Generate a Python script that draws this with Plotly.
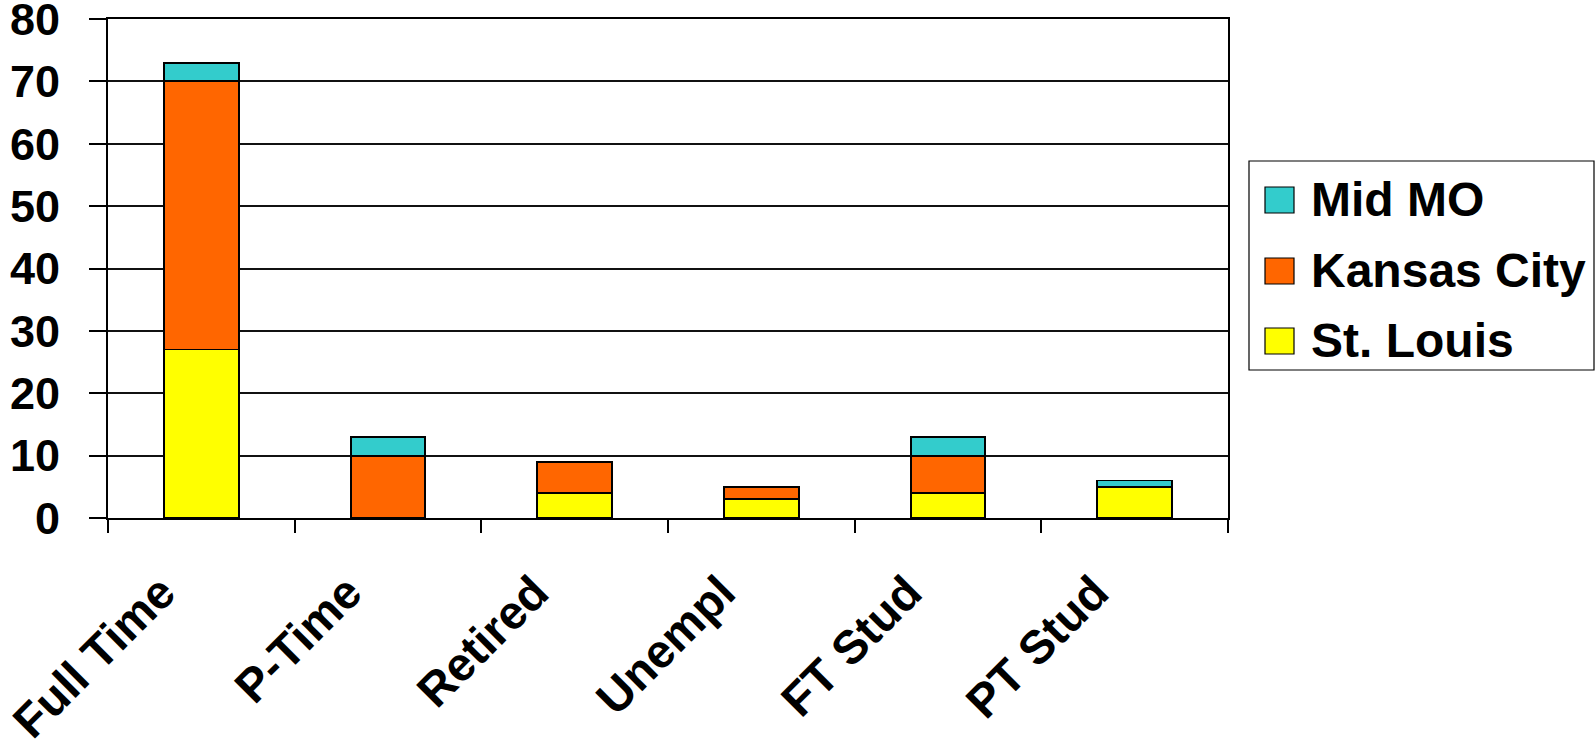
import plotly.graph_objects as go

categories = ["Full Time", "P-Time", "Retired", "Unempl", "FT Stud", "PT Stud"]
st_louis = [27, 0, 4, 3, 4, 5]
kansas_city = [43, 10, 5, 2, 6, 0]
mid_mo = [3, 3, 0, 0, 3, 1]
series_names = ["St. Louis", "Kansas City", "Mid MO"]
series_colors = ["#FFFF00", "#FF6600", "#33CCCC"]
y_ticks = [0, 10, 20, 30, 40, 50, 60, 70, 80]

W, H = 1595, 741
L, R, T, B = 108, 1228, 19, 518  # plot area in pixels
FONT = "Liberation Sans, Arial, sans-serif"

fig = go.Figure()
for name, vals, col in zip(series_names, [st_louis, kansas_city, mid_mo], series_colors):
    fig.add_trace(go.Bar(
        x=categories, y=vals, name=name,
        marker=dict(color=col, line=dict(color="black", width=1.8)),
        showlegend=False,
    ))

def px_x(p):
    return (p - L) / (R - L)

def px_y(p):
    return (B - p) / (B - T)

shapes = [dict(type="rect", xref="paper", yref="paper",
               x0=px_x(1249), x1=px_x(1594), y0=px_y(370), y1=px_y(161),
               line=dict(color="black", width=1.2), fillcolor="white", layer="above")]
annotations = []
row_centers = [341, 271, 200]
for name, col, cy in zip(series_names, series_colors, row_centers):
    shapes.append(dict(type="rect", xref="paper", yref="paper",
                       x0=px_x(1265), x1=px_x(1294), y0=px_y(cy + 13), y1=px_y(cy - 13),
                       line=dict(color="black", width=1.2), fillcolor=col, layer="above"))
    annotations.append(dict(xref="paper", yref="paper", x=px_x(1309), y=px_y(cy - 1),
                            xanchor="left", yanchor="middle", showarrow=False,
                            text=name, font=dict(family=FONT, size=48, color="black", weight="bold")))

fig.update_layout(
    width=W, height=H,
    margin=dict(l=L, r=W - R, t=T, b=H - B, pad=0),
    barmode="stack", bargap=0.6,
    paper_bgcolor="white", plot_bgcolor="white",
    showlegend=False,
    shapes=shapes, annotations=annotations,
    font=dict(family=FONT, size=46, color="black", weight="bold"),
)
fig.update_xaxes(
    type="category", tickangle=-45, tickson="boundaries", automargin=False,
    ticks="outside", ticklen=13, tickwidth=1.5, tickcolor="black",
    showline=True, linecolor="black", linewidth=2, mirror=True,
    showgrid=False, ticklabelshift=-40, ticklabelstandoff=26,
    ticklabeloverflow="allow",
    tickfont=dict(family=FONT, size=47, color="black", weight="bold"),
)
fig.update_yaxes(
    range=[0, 80], tickvals=y_ticks, ticktext=[str(v) for v in y_ticks],
    automargin=False, ticklabeloverflow="allow",
    ticks="outside", ticklen=17, tickwidth=1.5, tickcolor="black",
    showline=True, linecolor="black", linewidth=2, mirror=True,
    showgrid=True, gridcolor="#111111", gridwidth=1.5,
    zeroline=False, ticklabelstandoff=20,
    tickfont=dict(family=FONT, size=45, color="black", weight="bold"),
)

fig.write_html("out.html", config={"displayModeBar": False},
               post_script="document.body.style.margin='0';document.body.style.overflow='hidden';")
